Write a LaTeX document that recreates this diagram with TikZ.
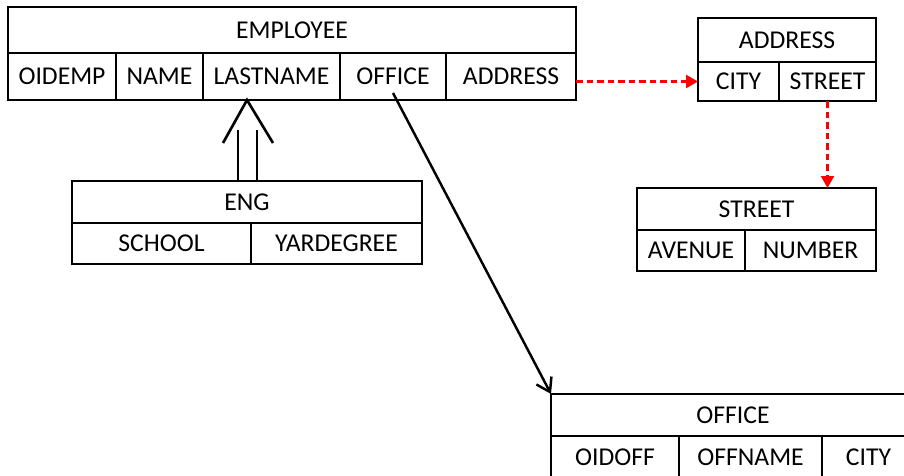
\documentclass[tikz,border=0pt]{standalone}
\usepackage{fontspec}
\setmainfont{Carlito}
\usepackage{xcolor}
\usepackage{tikz}
\usetikzlibrary{positioning, arrows.meta}
\definecolor{linkred}{HTML}{FF0000}

\begin{document}
\begin{tikzpicture}[
    cell/.style={draw, line width=0.7pt, outer sep=0pt, inner sep=0pt,
                 font=\fontsize{14.6}{16}\selectfont},
    isa/.style={line width=1.5pt},
    ref/.style={line width=1.4pt, -{Straight Barb[length=2.6mm, width=3.4mm]}},
    redref/.style={linkred, line width=1.3pt, dash pattern=on 1.3mm off 0.8mm,
                   -{Triangle[length=2.4mm, width=2.6mm]}}
  ]
  \useasboundingbox (0,0) rectangle (18.08,-9.5);
  \clip (0,0) rectangle (18.08,-9.5);

  % EMPLOYEE
  \node[cell, anchor=north west, minimum width=11.36cm, minimum height=0.92cm] (emp) at (0.16,-0.14) {EMPLOYEE};
  \node[cell, below right=0pt and 0pt of emp.south west, minimum width=2.16cm, minimum height=0.94cm] (oidemp) {OIDEMP};
  \node[cell, right=0pt of oidemp, minimum width=1.74cm, minimum height=0.94cm] (name) {NAME};
  \node[cell, right=0pt of name, minimum width=2.74cm, minimum height=0.94cm] (lastname) {LASTNAME};
  \node[cell, right=0pt of lastname, minimum width=2.12cm, minimum height=0.94cm] (empoffice) {OFFICE};
  \node[cell, right=0pt of empoffice, minimum width=2.60cm, minimum height=0.94cm] (empaddress) {ADDRESS};

  % ENG
  \node[cell, anchor=north west, minimum width=7.0cm, minimum height=0.84cm] (eng) at (1.44,-3.62) {ENG};
  \node[cell, below right=0pt and 0pt of eng.south west, minimum width=3.58cm, minimum height=0.82cm] (school) {SCHOOL};
  \node[cell, right=0pt of school, minimum width=3.42cm, minimum height=0.82cm] (yardegree) {YARDEGREE};

  % ADDRESS
  \node[cell, anchor=north west, minimum width=3.56cm, minimum height=0.88cm] (addr) at (13.96,-0.36) {ADDRESS};
  \node[cell, below right=0pt and 0pt of addr.south west, minimum width=1.62cm, minimum height=0.78cm] (addrcity) {CITY};
  \node[cell, right=0pt of addrcity, minimum width=1.94cm, minimum height=0.78cm] (addrstreet) {STREET};

  % STREET
  \node[cell, anchor=north west, minimum width=4.78cm, minimum height=0.84cm] (street) at (12.74,-3.76) {STREET};
  \node[cell, below right=0pt and 0pt of street.south west, minimum width=2.16cm, minimum height=0.82cm] (avenue) {AVENUE};
  \node[cell, right=0pt of avenue, minimum width=2.62cm, minimum height=0.82cm] (number) {NUMBER};

  % OFFICE
  \node[cell, anchor=north west, minimum width=7.28cm, minimum height=0.84cm] (office) at (11.02,-7.88) {OFFICE};
  \node[cell, below right=0pt and 0pt of office.south west, minimum width=2.56cm, minimum height=0.84cm] (oidoff) {OIDOFF};
  \node[cell, right=0pt of oidoff, minimum width=2.86cm, minimum height=0.84cm] (offname) {OFFNAME};
  \node[cell, right=0pt of offname, minimum width=1.86cm, minimum height=0.84cm] (offcity) {CITY};

  % ENG is an EMPLOYEE
  \coordinate (isatip) at (eng.north |- oidemp.south);
  \draw[isa] ([xshift=-0.18cm]eng.north) -- ([xshift=-0.18cm, yshift=-0.6cm]isatip);
  \draw[isa] ([xshift=0.2cm]eng.north) -- ([xshift=0.2cm, yshift=-0.6cm]isatip);
  \draw[isa] ([shift={(-0.48,-0.86)}]isatip) -- (isatip) -- ([shift={(0.52,-0.86)}]isatip);

  % references
  \draw[ref] ([yshift=-0.33cm]empoffice.center) -- (office.north west);
  \draw[redref] (addrcity.west -| empaddress.east) -- (addrcity.west);
  \draw[redref] (addrstreet.south) -- (addrstreet.south |- street.north);
\end{tikzpicture}
\end{document}
